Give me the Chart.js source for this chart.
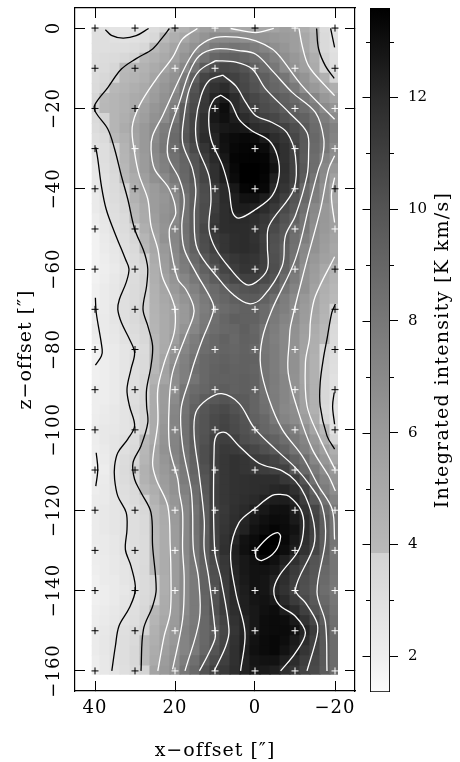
<!DOCTYPE html>
<html>
<head>
<meta charset="utf-8">
<style>
body { margin: 0; background: #fff; overflow: hidden; }
canvas { position: absolute; top: 0; }
#mapChart { left: 0; }
#barChart { left: 360px; }
</style>
<script src="https://cdn.jsdelivr.net/npm/chart.js@4"></script>
</head>
<body>
<canvas id="mapChart" width="360" height="762"></canvas>
<canvas id="barChart" width="100" height="762"></canvas>
<script>
const xColumns = [40, 37.5, 35, 32.5, 30, 27.5, 25, 22.5, 20, 17.5, 15, 12.5, 10, 7.5, 5, 2.5, 0, -2.5, -5, -7.5, -10, -12.5, -15, -17.5, -20];
const zRows = [0, -2.5, -5, -7.5, -10, -12.5, -15, -17.5, -20, -22.5, -25, -27.5, -30, -32.5, -35, -37.5, -40, -42.5, -45, -47.5, -50, -52.5, -55, -57.5, -60, -62.5, -65, -67.5, -70, -72.5, -75, -77.5, -80, -82.5, -85, -87.5, -90, -92.5, -95, -97.5, -100, -102.5, -105, -107.5, -110, -112.5, -115, -117.5, -120, -122.5, -125, -127.5, -130, -132.5, -135, -137.5, -140, -142.5, -145, -147.5, -150, -152.5, -155, -157.5, -160];

// integrated intensity, one line per z row, left to right in x
const cellValues = [
	[3.0,2.9,2.7,2.6,2.6,2.8,3.2,3.6,4.0,4.4,5.2,5.7,5.9,5.7,5.3,5.2,5.2,5.2,5.4,5.7,5.6,4.7,3.9,3.2,2.7],
	[3.0,3.0,2.9,2.8,2.9,3.1,3.5,3.9,4.6,5.2,5.9,6.4,6.9,6.9,6.9,6.7,6.6,6.4,6.2,6.0,5.8,5.1,4.2,3.4,2.9],
	[3.0,3.0,3.1,3.1,3.2,3.5,3.9,4.6,5.3,5.9,6.5,7.2,7.9,8.1,8.2,8.0,7.7,7.3,6.7,6.3,5.8,5.2,4.2,3.4,2.9],
	[3.1,3.2,3.3,3.5,3.8,4.1,4.5,5.0,5.6,6.4,7.4,8.3,9.0,9.3,9.3,9.0,8.6,8.1,7.5,6.7,6.2,5.6,4.7,3.7,3.0],
	[3.1,3.3,3.6,3.9,4.1,4.4,4.9,5.4,6.2,7.1,8.3,9.6,10.3,10.6,10.4,10.0,9.2,8.7,8.0,6.9,6.4,5.7,4.9,3.8,3.1],
	[3.2,3.5,3.8,4.1,4.3,4.6,5.3,6.0,6.5,7.9,9.4,10.7,11.1,11.2,10.9,10.5,9.9,9.4,8.8,8.1,7.0,6.4,5.4,4.5,3.7],
	[3.3,3.7,4.0,4.3,4.6,5.0,5.7,6.3,6.8,8.3,10.0,11.1,11.6,11.9,11.1,10.6,10.1,9.5,9.0,8.6,7.9,6.7,6.1,5.4,4.6],
	[3.6,3.9,4.2,4.5,4.9,5.2,5.9,6.5,7.3,8.6,10.3,11.3,12.2,12.6,11.9,11.1,10.6,10.2,9.8,9.3,8.8,8.0,7.2,6.2,5.5],
	[3.8,4.0,4.2,4.5,4.9,5.6,6.3,6.7,7.7,9.5,10.5,11.4,12.5,13.1,11.9,11.4,10.9,10.4,10.1,9.5,9.2,8.6,7.9,6.9,6.4],
	[3.4,3.8,4.2,4.6,5.2,5.8,6.5,6.9,8.0,9.7,10.7,11.7,12.7,13.0,12.5,11.9,11.4,10.9,10.6,10.1,9.6,9.2,8.5,7.7,6.9],
	[3.2,3.6,4.2,4.8,5.5,6.1,6.8,7.7,8.6,9.7,10.7,11.7,12.4,12.7,12.8,12.7,11.9,11.6,11.4,10.9,10.3,9.7,8.7,8.1,7.5],
	[3.0,3.3,3.9,4.5,5.4,6.1,6.9,7.9,8.8,9.9,10.8,11.9,12.2,13.0,13.2,13.3,13.2,12.6,11.9,11.5,10.6,9.8,8.9,8.1,7.3],
	[2.8,3.1,3.7,4.3,5.4,6.1,7.1,8.0,8.6,9.4,10.5,11.5,12.2,12.9,13.3,13.4,13.4,13.2,12.3,11.7,10.9,9.7,8.8,8.0,6.9],
	[2.6,3.1,3.6,4.2,5.2,6.0,6.9,7.6,8.4,9.1,10.0,11.1,12.0,12.7,13.4,13.5,13.5,13.4,12.6,11.7,10.9,9.6,8.6,7.4,6.7],
	[2.5,3.0,3.5,4.1,5.2,6.0,6.8,7.5,8.2,9.0,9.9,10.7,11.7,12.5,13.3,13.6,13.6,13.5,12.9,11.8,10.9,9.8,8.6,7.1,6.1],
	[2.4,2.9,3.4,3.9,4.8,5.7,6.6,7.0,7.9,8.9,9.8,10.7,11.7,12.4,13.2,13.6,13.6,13.4,12.4,11.7,10.9,9.6,8.2,6.9,5.6],
	[2.4,2.9,3.3,3.8,4.6,5.3,6.0,6.5,7.3,8.6,9.4,10.4,11.2,11.9,12.7,13.4,13.5,13.3,12.0,11.5,10.7,8.9,7.8,6.6,5.2],
	[2.3,2.8,3.2,3.6,4.4,5.2,5.9,6.3,7.0,8.3,9.4,10.3,11.0,11.9,12.4,12.9,12.9,12.5,11.7,11.0,10.0,8.9,7.6,6.6,5.2],
	[2.3,2.7,3.1,3.5,4.05,5.0,5.9,6.4,6.8,8.3,9.5,10.4,11.1,11.8,12.4,12.5,12.3,11.9,11.3,10.5,9.7,8.5,7.1,6.2,5.4],
	[2.1,2.5,3.0,3.3,3.9,4.9,5.8,6.5,7.0,8.3,9.5,10.4,11.3,11.8,12.0,12.0,11.8,11.4,10.8,10.1,9.2,8.1,6.9,6.2,5.6],
	[1.9,2.4,2.9,3.2,3.8,4.6,5.6,6.4,7.2,8.4,9.5,10.6,11.5,11.8,11.9,11.9,11.7,11.2,10.5,9.8,8.7,8.0,6.7,6.1,5.6],
	[1.8,2.3,2.7,3.1,3.6,4.2,5.3,6.5,7.2,8.3,9.4,10.4,11.2,11.5,11.8,11.9,11.6,11.0,10.2,9.6,8.5,7.6,6.6,5.9,5.4],
	[1.8,2.2,2.5,3.0,3.4,4.0,5.2,6.1,7.1,8.3,9.3,10.3,10.9,11.5,11.8,11.9,11.7,11.1,10.1,9.4,8.4,7.1,6.5,5.8,5.2],
	[1.8,2.1,2.4,2.8,3.2,3.8,4.9,5.9,6.9,7.9,8.9,9.8,10.5,11.0,11.4,11.6,11.5,11.0,10.2,9.4,8.2,6.9,6.2,5.6,5.3],
	[1.8,2.0,2.3,2.7,3.1,3.6,4.7,5.8,6.8,7.7,8.5,9.3,10.0,10.7,11.1,11.5,11.4,10.9,10.3,9.2,8.1,6.6,5.9,5.1,4.4],
	[1.8,2.1,2.4,2.8,3.2,3.7,4.6,5.5,6.4,7.2,8.0,8.8,9.5,10.2,10.6,10.9,10.9,10.5,10.0,8.8,7.8,6.5,5.8,4.9,4.3],
	[1.9,2.2,2.5,2.9,3.3,3.7,4.5,5.3,6.1,6.8,7.5,8.3,8.8,9.3,9.7,10.0,10.1,9.7,9.4,8.2,7.4,6.6,5.5,4.6,4.1],
	[1.9,2.2,2.5,3.0,3.3,3.8,4.4,5.1,5.7,6.4,7.1,7.9,8.6,9.0,9.4,9.6,9.6,9.2,8.6,7.7,6.9,6.2,5.4,4.5,3.9],
	[2.0,2.2,2.6,3.0,3.4,3.8,4.35,5.0,5.4,6.1,6.9,7.7,8.3,8.7,9.0,9.3,9.2,8.7,8.0,7.6,6.8,6.0,5.3,4.35,3.8],
	[2.1,2.3,2.6,3.0,3.4,3.8,4.3,4.9,5.5,6.1,7.0,7.9,8.5,9.0,9.4,9.3,9.2,8.7,7.9,7.3,6.8,5.9,5.1,4.2,3.6],
	[2.2,2.3,2.5,2.9,3.2,3.6,4.2,4.9,5.5,6.4,7.2,8.0,8.6,8.9,9.0,9.4,9.0,8.2,7.7,7.1,6.6,5.7,4.8,4.0,3.4],
	[2.1,2.2,2.4,2.8,3.1,3.5,4.0,4.9,5.8,6.9,7.7,8.5,8.9,9.2,8.9,9.3,9.1,8.1,7.6,7.1,6.5,5.6,4.7,3.9,3.3],
	[1.8,2.1,2.3,2.6,2.9,3.3,3.9,5.0,6.2,7.2,7.9,8.6,8.9,9.1,9.0,9.2,8.9,8.1,7.7,7.1,6.5,5.5,4.6,3.6,3.2],
	[1.8,2.1,2.3,2.6,3.0,3.4,4.0,5.3,6.6,7.5,8.2,8.9,9.1,9.3,9.1,9.3,9.2,8.2,7.7,7.1,6.6,5.4,4.5,3.6,3.1],
	[1.9,2.1,2.3,2.6,3.0,3.4,4.05,5.5,6.9,7.6,8.5,8.9,9.2,9.4,9.2,9.3,9.1,8.2,7.7,7.1,6.6,5.4,4.5,3.5,3.0],
	[1.9,2.1,2.3,2.6,3.0,3.5,4.4,5.4,6.8,7.6,8.2,8.9,9.3,9.3,9.3,9.4,9.2,8.3,7.8,7.2,6.5,5.4,4.5,3.5,2.9],
	[2.0,2.1,2.3,2.6,3.0,3.5,4.8,5.9,6.6,8.1,8.7,9.0,9.4,9.5,9.3,9.4,9.2,8.3,7.7,7.2,6.5,5.5,4.5,3.5,2.9],
	[2.0,2.1,2.3,2.7,3.1,3.6,4.9,5.9,6.9,8.3,9.0,9.5,9.8,10.0,9.7,9.6,9.1,8.4,7.8,7.2,6.6,5.5,4.5,3.5,2.8],
	[2.0,2.2,2.4,2.7,3.2,3.7,4.9,6.0,7.2,8.3,9.3,9.9,10.3,10.5,10.1,9.7,9.1,8.5,7.8,7.1,6.8,5.6,4.5,3.4,2.7],
	[2.1,2.3,2.4,2.7,3.0,3.7,4.9,6.1,7.3,8.4,9.5,10.0,10.5,10.7,10.4,10.0,9.3,8.9,8.0,7.3,6.9,5.9,4.8,3.6,2.8],
	[2.2,2.4,2.5,2.7,2.9,3.7,4.9,6.3,7.2,8.4,9.6,10.0,10.5,10.8,10.5,10.1,9.6,9.0,8.6,8.0,7.6,6.6,5.4,3.9,2.9],
	[2.1,2.4,2.6,2.9,3.2,3.9,5.0,6.4,7.3,8.4,9.5,10.1,10.8,11.0,10.9,10.3,10.0,9.6,9.2,8.6,8.0,7.3,6.2,4.7,3.5],
	[2.0,2.3,2.6,3.0,3.4,4.05,5.4,6.5,7.4,8.3,9.4,10.3,10.9,11.3,11.2,10.9,10.6,10.2,9.7,9.2,8.3,7.6,6.6,5.7,4.7],
	[1.9,2.2,2.7,3.2,3.6,4.2,5.3,6.3,7.2,8.1,9.2,10.3,11.0,11.4,11.6,11.5,11.2,11.0,10.7,10.1,9.2,8.5,7.2,6.3,5.2],
	[1.8,2.1,2.8,3.3,3.8,4.5,5.4,6.1,6.8,7.9,9.1,10.1,10.9,11.4,11.6,11.5,11.3,11.1,10.9,10.9,9.8,8.9,7.9,6.8,6.1],
	[2.0,2.2,2.8,3.2,3.6,4.4,5.1,5.9,6.6,7.8,8.9,9.9,10.9,11.4,11.6,11.7,11.8,11.8,11.8,11.4,11.1,10.0,8.4,7.4,6.4],
	[2.1,2.3,2.7,3.1,3.4,4.1,4.7,5.8,6.5,7.5,8.6,9.8,11.0,11.4,11.6,11.7,11.8,11.9,12.1,12.2,11.7,10.7,9.2,7.8,6.8],
	[2.2,2.3,2.6,3.0,3.3,3.8,4.4,5.5,6.3,7.2,8.5,9.6,11.0,11.4,11.6,11.8,12.0,12.3,12.5,12.5,12.2,11.1,9.8,8.4,7.4],
	[2.2,2.4,2.6,2.8,3.1,3.5,4.1,5.0,6.1,7.1,8.3,9.5,10.9,11.3,11.7,12.0,12.4,12.7,13.0,13.0,12.5,11.6,10.7,9.1,8.0],
	[2.2,2.4,2.6,2.8,3.1,3.4,4.05,4.9,6.0,7.1,8.4,9.5,10.9,11.4,11.8,12.2,12.7,13.0,13.2,13.1,12.6,11.9,10.9,9.5,8.2],
	[2.2,2.4,2.6,2.8,3.1,3.4,4.0,4.8,5.9,7.1,8.4,9.4,10.9,11.5,11.9,12.3,12.9,13.2,13.4,13.2,12.9,11.9,10.9,9.5,8.3],
	[2.2,2.3,2.5,2.8,3.1,3.3,3.9,4.8,5.9,7.1,8.3,9.5,10.8,11.6,12.2,12.9,13.2,13.6,13.6,13.3,12.7,11.8,10.8,9.5,8.2],
	[2.1,2.3,2.5,2.8,3.0,3.3,3.9,4.8,5.9,7.1,8.2,9.5,10.7,11.7,12.4,13.0,13.3,13.6,13.5,13.1,12.5,11.6,10.7,9.5,8.1],
	[2.1,2.2,2.4,2.7,3.0,3.3,3.9,4.8,5.9,7.0,8.1,9.4,10.5,11.4,12.3,12.7,13.0,13.3,13.0,12.4,11.7,10.9,10.0,9.2,8.2],
	[2.0,2.2,2.4,2.6,3.0,3.4,3.9,4.8,5.9,6.9,8.0,9.2,10.3,11.3,12.2,12.7,12.9,12.9,12.7,12.0,11.2,10.5,9.9,8.9,8.2],
	[1.9,2.2,2.3,2.6,2.9,3.3,3.8,4.7,5.9,6.9,7.9,9.2,10.2,11.2,12.1,12.6,12.9,12.8,12.3,11.8,11.0,10.3,9.8,8.8,8.1],
	[1.9,2.1,2.3,2.5,2.8,3.3,3.7,4.7,6.0,6.9,7.9,9.2,10.0,11.1,12.0,12.5,12.9,12.8,12.2,11.6,10.9,10.2,9.6,8.6,8.0],
	[1.9,2.1,2.3,2.6,2.9,3.4,3.8,4.8,5.9,6.9,7.9,9.1,10.1,11.1,11.9,12.4,12.8,12.9,12.6,12.0,11.2,10.5,9.8,8.9,8.1],
	[2.0,2.2,2.4,2.7,3.0,3.5,4.0,4.9,5.9,7.0,7.9,9.0,10.2,11.1,11.8,12.4,12.7,13.0,13.1,12.5,11.9,11.0,10.1,9.2,8.3],
	[2.1,2.3,2.5,2.8,3.1,3.6,4.2,5.1,6.0,7.2,7.9,8.9,9.9,10.8,11.6,12.2,12.7,13.1,13.2,13.1,12.6,11.6,10.7,9.5,8.5],
	[2.2,2.4,2.7,3.0,3.3,3.8,4.5,5.4,6.1,7.4,8.0,8.9,9.5,10.6,11.5,12.2,12.7,13.1,13.2,13.2,13.0,12.2,11.2,9.9,8.6],
	[2.2,2.5,2.8,3.1,3.4,3.9,4.6,5.5,6.2,7.3,8.0,8.9,9.7,10.7,11.6,12.3,12.9,13.2,13.3,13.1,12.6,11.9,10.9,9.8,8.7],
	[2.2,2.5,2.8,3.1,3.5,3.9,4.8,5.7,6.4,7.3,7.9,9.0,10.0,10.8,11.7,12.4,13.0,13.2,13.3,12.9,12.4,11.5,10.8,9.7,8.7],
	[2.1,2.4,2.8,3.1,3.5,3.9,5.0,5.9,6.6,7.7,8.5,9.5,10.4,11.0,11.7,12.3,12.8,12.9,12.9,12.4,11.9,11.1,10.6,9.7,8.7],
	[2.0,2.4,2.7,3.0,3.4,3.8,5.4,6.1,6.7,8.1,8.9,10.1,10.9,11.3,11.8,12.3,12.7,12.6,12.4,11.8,11.5,10.8,10.5,9.6,8.7]
];

// gray ramp of the colour bar, value -> gray level
const rampValues = [1.36, 2, 3.85, 3.85, 4, 6, 8, 10, 12, 13.6];
const rampGrays = [252, 238, 211, 186, 184, 155, 120, 84, 42, 0];
const barMajorTicks = [2, 4, 6, 8, 10, 12];
const barMinorTicks = [3, 5, 7, 9, 11, 13];

// observed positions, one string per z row, one char per x column
const crossXs = [40, 30, 20, 10, 0, -10, -20];
const crossZs = [0, -10, -20, -30, -40, -50, -60, -70, -80, -90, -100, -110, -120, -130, -140, -150, -160];
const crossShades = [
	'bbbwbwb', 'bbwwwwb', 'bbwwwww', 'bwwwwww', 'bbwwwwb', 'bbwwwww', 'bbwwwwb', 'bbwwwwb', 'bbwwwwb',
	'bbwwwwb', 'bbwwwwb', 'bbwwwww', 'bbwwwww', 'bbwwwww', 'bbwwwww', 'bbwwwww', 'bbwwwww'
];

// contours, [x, z]
const blackTopLeft = [[37.4,-0.4],[35.9,-1.8],[33,-2.5],[29.7,-1.9],[26.6,-0.1]];
const blackOuter = [[39.8,-29.7],[39.3,-32.6],[38.4,-39.3],[37.2,-45.1],[35.1,-50.9],[33.4,-55],[32.4,-57.5],[31.5,-60],[32.2,-63.3],[33.9,-67.5],[34.3,-70],[33.4,-73.3],[31.4,-77.4],[30.1,-80.8],[31,-84.9],[32,-89.9],[31.4,-94],[30.1,-99],[31.8,-102.3],[34.3,-105.7],[35.1,-109],[35.1,-112.3],[34.3,-116.5],[32.2,-120.6],[32,-124.8],[32.4,-129.8],[31,-133.9],[29.9,-139.7],[31.4,-144.3],[34,-148.8],[34.9,-153.8],[35.8,-160]];
const blackInner = [[21.4,-0.1],[23.1,-2.3],[25.6,-5.2],[29.7,-7.6],[33.4,-10.2],[36.8,-14.8],[40.1,-19.2],[39.8,-21],[36.8,-25.1],[35.1,-30.1],[33.4,-36.8],[31.8,-42.6],[30.1,-50],[28,-55],[27.2,-57.5],[26.8,-60],[27.1,-64.2],[28,-70],[26.8,-74.1],[25.6,-79.1],[26,-84.1],[27.1,-89.9],[27.1,-94],[26.8,-98.2],[28.5,-104],[30.5,-108.2],[30.1,-112.3],[28.5,-115.6],[26,-120.6],[25.6,-128.9],[24.7,-139.7],[25.6,-143.9],[27.9,-149.7],[28.5,-160]];
const blackLeftA = [[39.9,-67.1],[39.7,-70.8],[38.2,-80],[38.4,-81.6],[39.9,-83.9]];
const blackLeftB = [[39.7,-105.7],[39.3,-109.8],[39.8,-114]];
const blackRightTop = [[-15.4,-0.1],[-15.9,-5.2],[-17.6,-9.4],[-19.8,-12.5]];
const blackRightEdge = [[-18.9,-0.1],[-19.9,-4.8]];
const blackRightMid = [[-20.1,-68.7],[-19.2,-70.8],[-18,-77.4],[-17.2,-81.6],[-16.3,-88.2],[-16.3,-94.1],[-18,-101.5],[-19.9,-104.8]];
const blackRightSmall = [[-19.8,-90.7],[-19.4,-94.1],[-19.9,-98.6]];

const whiteA = [[14.4,-0.1],[18.1,-2.7],[20.6,-7.3],[24.7,-12.7],[28.9,-19.3],[30.7,-24.7],[30.1,-31],[28.9,-36.8],[26.8,-42.6],[26,-49.2],[24.3,-55],[23.2,-61.7],[21,-66.7],[20,-70],[20.2,-75.8],[22.7,-83.3],[24.3,-89.9],[24.3,-98.2],[25.6,-108.2],[24.7,-112.3],[21.8,-119],[21.2,-128.9],[21,-137.2],[21.2,-145.5],[22.7,-151.3],[24.3,-160]];
const whiteARight = [[-11,-0.1],[-11.8,-4.4],[-13.4,-9.4],[-17.6,-14.4],[-19.9,-16.8]];
const whiteASmallTop = [[6.1,-0.1],[-0.2,-1.1],[-4.7,-0.1]];
const whiteARightLow = [[-19.9,-56.9],[-15.1,-66.7],[-13.9,-72.5],[-13.6,-77.4],[-12.6,-83.3],[-13,-94],[-15.9,-101.5],[-20,-109.8]];
const whiteASmallRight = [[-19.9,-37.2],[-19.1,-41.7],[-19.9,-48.4]];
const whiteB = [[-19.9,-22.7],[-11.8,-14.4],[-6.4,-7.3],[-4.3,-5.2],[-0.2,-3.2],[4,-2.3],[9.8,-2.3],[13.9,-4.4],[16.4,-7.7],[19.3,-13.5],[23.1,-21.8],[25.6,-26.8],[26,-30.1],[25.1,-35.1],[21.4,-40.1],[19.8,-45.9],[21.4,-50],[21,-55],[19.3,-62.5],[17.3,-65],[15.4,-69.1],[15.4,-71.6],[17.3,-76.6],[20.6,-85.7],[21.4,-92.4],[21.4,-104],[19.3,-112.3],[18.9,-115.6],[18.1,-120.6],[18.1,-129.7],[17.7,-137.2],[18.1,-147.2],[20.6,-159.6]];
const whiteBRight = [[-19.9,-31.8],[-18.4,-35.1],[-16.4,-45],[-12.6,-59.2],[-8.9,-74.1],[-8.6,-77.5],[-8.3,-85.8],[-10.9,-95.7],[-14.3,-104.8],[-18.4,-111.5],[-20.1,-115.2]];
const whiteC = [[-19.9,-127.3],[-19.3,-119.8],[-15.9,-114],[-11.8,-106.5],[-6.8,-99.9],[-3.5,-92.4],[-1.4,-84.1],[-1.8,-77.4],[-4.3,-70],[-10.1,-57.5],[-13.9,-42.6],[-15.9,-35.1],[-16.8,-32.6],[-17.2,-27.6],[-15.1,-21],[-9.3,-16],[-4.3,-10.6],[-0.2,-6.5],[4,-5.6],[9.8,-5.2],[13.9,-6.9],[16.4,-11],[18.9,-18.5],[21.4,-26],[21.8,-31.8],[18.9,-37.6],[17.7,-42.6],[18.3,-49.2],[17.7,-55],[14.8,-60.8],[10.6,-68.3],[10.5,-70.8],[13.1,-77.4],[15.2,-83.3],[16.4,-87.4],[18.5,-94.9],[18.1,-104],[16,-114.8],[15.6,-120.6],[15.4,-129.7],[14.1,-137.2],[13.9,-147.2],[17.5,-160]];
const whiteD = [[9.8,-8.1],[13.9,-10.6],[16.4,-15.2],[17.7,-21.8],[18.1,-28.5],[15.6,-35.1],[14.8,-40.1],[15.2,-46.7],[14.4,-55],[9,-62.5],[5.6,-66.2],[1.5,-68.6],[-1.8,-67.1],[-6.8,-59.2],[-7.6,-51.7],[-10.1,-46.7],[-13,-36.8],[-13.4,-31],[-13,-26],[-8.5,-21],[-2.7,-15.2],[0.7,-10.2],[4.8,-8.5],[9.8,-8.1]];
const whiteE = [[8.1,-11.7],[11.5,-13.1],[13.5,-16.9],[14.8,-23.5],[14.4,-29.3],[11.5,-36.8],[11,-42.6],[11.5,-50],[9.8,-55],[6.1,-60],[2.3,-63.8],[-0.2,-63.3],[-3.1,-60],[-3.1,-54.2],[-3.5,-49.2],[-9.7,-40.1],[-10.1,-31.8],[-8,-26],[-4.3,-23.5],[-0.2,-21.8],[2.3,-18.5],[4.8,-14.4],[8.1,-11.7]];
const whiteF = [[8.5,-16.7],[10.2,-17.7],[11.5,-21],[11,-27.6],[8.1,-34.3],[6.5,-40.1],[5.6,-45.9],[4,-47.3],[-0.2,-45.1],[-4.3,-41.7],[-6,-36.8],[-5.6,-31.8],[-3.5,-28],[0.7,-25.6],[4,-22.7],[6.1,-18.5],[8.5,-16.7]];
const whiteLowD = [[13.9,-160],[11.9,-156.3],[10,-152],[10,-149.7],[11.5,-137.2],[12.7,-129.7],[12.7,-122.3],[14,-110.7],[15.2,-101.5],[14.8,-95.7],[11.9,-92.4],[8.3,-91],[4,-93.4],[0.2,-99.5],[-5.1,-104.8],[-10.1,-109.4],[-13.9,-114],[-16.8,-119],[-17.6,-127.3],[-15.5,-140.3],[-17.6,-148],[-18,-160]];
const whiteLowE = [[10.2,-160],[7.3,-153.8],[6.5,-149.7],[8.5,-137.2],[10.1,-129.7],[10.2,-104],[9.4,-101.1],[7.3,-100.7],[4,-104],[-1,-108.3],[-6.8,-110.2],[-10.1,-112.7],[-12.6,-116.5],[-14.7,-123.1],[-14.7,-128.9],[-10.1,-139.7],[-12.6,-143],[-15.5,-148],[-15.5,-151.3],[-13,-160]];
const whiteLowF = [[3.6,-160],[2.5,-150.5],[4.8,-140.5],[6.1,-130.6],[4,-123.1],[-0.2,-119.4],[-4.3,-116.3],[-6.8,-116.1],[-8.5,-116.5],[-11.4,-119.8],[-12.2,-123.9],[-11,-129.8],[-6,-136.4],[-4.7,-140.1],[-6,-143.5],[-10.1,-146.4],[-12.6,-150.5],[-10.1,-155.5],[-6.4,-160]];
const whiteLowPeak = [[-0.2,-130],[-3.1,-126.9],[-5.6,-125.6],[-6.4,-126.6],[-5.1,-130.2],[-1.8,-132.5],[-0.3,-131.8],[-0.2,-130]];

const blackContours = [blackTopLeft, blackOuter, blackInner, blackLeftA, blackLeftB, blackRightTop, blackRightEdge, blackRightMid, blackRightSmall];
const whiteContours = [whiteA, whiteARight, whiteASmallTop, whiteARightLow, whiteASmallRight, whiteB, whiteBRight, whiteC, whiteD, whiteE, whiteF, whiteLowD, whiteLowE, whiteLowF, whiteLowPeak];

const serif = '"DejaVu Serif", serif';

function minus(v) {
	return String(v).replace('-', '\u2212');
}

function grayFor(v) {
	let i = 0;
	while (i < rampValues.length - 2 && v > rampValues[i + 1]) i++;
	const span = rampValues[i + 1] - rampValues[i];
	const f = span > 0 ? Math.min(1, Math.max(0, (v - rampValues[i]) / span)) : 1;
	const g = Math.round(rampGrays[i] + f * (rampGrays[i + 1] - rampGrays[i]));
	return 'rgb(' + g + ',' + g + ',' + g + ')';
}

const cells = [];
zRows.forEach(function(z, r) {
	xColumns.forEach(function(x, c) {
		cells.push({ x: x, y: [z - 1.25, z + 1.25], v: cellValues[r][c] });
	});
});

const darkCrosses = [];
const lightCrosses = [];
crossZs.forEach(function(z, r) {
	crossXs.forEach(function(x, c) {
		(crossShades[r][c] === 'b' ? darkCrosses : lightCrosses).push({ x: x, y: z });
	});
});

function contourSet(list, color, width) {
	return list.map(function(line) {
		return {
			type: 'line',
			order: 1,
			data: line.map(function(p) { return { x: p[0], y: p[1] }; }),
			borderColor: color,
			borderWidth: width,
			pointRadius: 0,
			tension: 0.35,
			fill: false
		};
	});
}

function crossSet(points, color) {
	return {
		type: 'scatter',
		order: 0,
		data: points,
		pointStyle: 'cross',
		pointRadius: 3.5,
		pointBorderWidth: 1,
		pointBorderColor: color,
		pointBackgroundColor: color
	};
}

function frameGrid() {
	return { drawOnChartArea: false, drawTicks: true, tickLength: -10, tickColor: '#000', tickWidth: 1, offset: false };
}
const frameBorder = { display: true, color: '#000', width: 1.2 };

function noPadding(s) {
	s.paddingLeft = s.paddingRight = s.paddingTop = s.paddingBottom = 0;
}

// the original lettering runs wide
const wideText = {
	id: 'wideText',
	beforeDraw: function(chart) {
		chart.ctx.letterSpacing = '1px';
	}
};

new Chart(document.getElementById('mapChart'), {
	type: 'scatter',
	data: {
		datasets: [{
			type: 'bar',
			order: 5,
			data: cells,
			barThickness: 10.04,
			grouped: false,
			borderWidth: 0,
			inflateAmount: 0.5,
			clip: { left: -16.7, right: -17, top: -19, bottom: -16.3 },
			backgroundColor: function(c) {
				return c.raw ? grayFor(c.raw.v) : '#888';
			}
		}].concat(contourSet(blackContours, '#000', 1.3), contourSet(whiteContours, '#fff', 1.3), [crossSet(darkCrosses, '#000'), crossSet(lightCrosses, '#fff')])
	},
	plugins: [wideText],
	options: {
		responsive: false,
		animation: false,
		events: [],
		plugins: { legend: { display: false }, tooltip: { enabled: false } },
		scales: {
			x: {
				type: 'linear', position: 'bottom', reverse: true, min: -25, max: 45, offset: false,
				grid: frameGrid(), border: frameBorder,
				ticks: {
					stepSize: 20, includeBounds: false, maxRotation: 0, padding: 16.7, color: '#000',
					font: { family: serif, size: 18 }, callback: minus
				},
				title: { display: true, text: 'x\u2212offset [\u2033]', color: '#000', font: { family: serif, size: 19 }, padding: { top: 0, bottom: 0 } },
				afterFit: function(s) { s.height = 71; noPadding(s); }
			},
			y: {
				type: 'linear', position: 'left', min: -165, max: 5, offset: false,
				grid: frameGrid(), border: frameBorder,
				ticks: {
					stepSize: 20, includeBounds: false, minRotation: 90, maxRotation: 90, crossAlign: 'center', padding: 6, color: '#000',
					font: { family: serif, size: 18 }, callback: minus
				},
				title: { display: true, text: 'z\u2212offset [\u2033]', color: '#000', font: { family: serif, size: 19 }, padding: { top: 15, bottom: 0 } },
				afterFit: function(s) { s.width = 75; noPadding(s); }
			},
			xTop: {
				type: 'linear', axis: 'x', position: 'top', reverse: true, min: -25, max: 45, offset: false, display: true,
				grid: frameGrid(), border: frameBorder,
				ticks: { stepSize: 20, includeBounds: false, display: false },
				afterFit: function(s) { s.height = 8; noPadding(s); }
			},
			yRight: {
				type: 'linear', axis: 'y', position: 'right', min: -165, max: 5, offset: false, display: true,
				grid: frameGrid(), border: frameBorder,
				ticks: { stepSize: 20, includeBounds: false, display: false },
				afterFit: function(s) { s.width = 4; noPadding(s); }
			}
		}
	}
});

// small ticks and the rotated label of the colour bar
const barExtras = {
	id: 'barExtras',
	afterDatasetsDraw: function(chart) {
		const ctx = chart.ctx;
		const y = chart.scales.y;
		const area = chart.chartArea;
		ctx.save();
		ctx.strokeStyle = '#000';
		ctx.lineWidth = 1;
		function tick(v, x1, x2) {
			const p = Math.round(y.getPixelForValue(v)) + 0.5;
			ctx.beginPath();
			ctx.moveTo(x1, p);
			ctx.lineTo(x2, p);
			ctx.stroke();
		}
		barMajorTicks.forEach(function(v) { tick(v, area.left - 7.5, area.left); });
		barMinorTicks.forEach(function(v) {
			tick(v, area.left - 4, area.left);
			tick(v, area.right, area.right + 4);
		});
		ctx.translate(83, (area.top + area.bottom) / 2);
		ctx.rotate(-Math.PI / 2);
		ctx.fillStyle = '#000';
		ctx.font = '19px ' + serif;
		ctx.letterSpacing = '1.3px';
		ctx.textAlign = 'center';
		ctx.textBaseline = 'middle';
		ctx.fillText('Integrated intensity [K km/s]', 0, 0);
		ctx.restore();
	}
};

new Chart(document.getElementById('barChart'), {
	type: 'bar',
	data: {
		labels: [''],
		datasets: [{
			data: [[rampValues[0], rampValues[rampValues.length - 1]]],
			barPercentage: 1,
			categoryPercentage: 1,
			borderColor: '#000',
			borderWidth: 1.2,
			borderSkipped: false,
			backgroundColor: function(c) {
				const y = c.chart.scales.y;
				const lo = rampValues[0];
				const hi = rampValues[rampValues.length - 1];
				if (!y || !isFinite(y.getPixelForValue(lo)) || !isFinite(y.getPixelForValue(hi))) return '#888';
				const g = c.chart.ctx.createLinearGradient(0, y.getPixelForValue(lo), 0, y.getPixelForValue(hi));
				rampValues.forEach(function(v, i) {
					g.addColorStop((v - lo) / (hi - lo), 'rgb(' + rampGrays[i] + ',' + rampGrays[i] + ',' + rampGrays[i] + ')');
				});
				return g;
			}
		}]
	},
	plugins: [barExtras],
	options: {
		responsive: false,
		animation: false,
		events: [],
		layout: { padding: { left: 10, top: 8, bottom: 70, right: 0 } },
		plugins: { legend: { display: false }, tooltip: { enabled: false } },
		scales: {
			x: { display: false },
			y: {
				position: 'right', min: rampValues[0], max: rampValues[rampValues.length - 1],
				grid: { drawOnChartArea: false, drawTicks: true, tickLength: 8, tickColor: '#000', tickWidth: 1 },
				border: { display: false },
				ticks: { stepSize: 2, includeBounds: false, padding: 10, color: '#000', font: { family: serif, size: 15 } },
				afterFit: function(s) { s.width = 70; noPadding(s); }
			}
		}
	}
});
</script>
</body>
</html>
